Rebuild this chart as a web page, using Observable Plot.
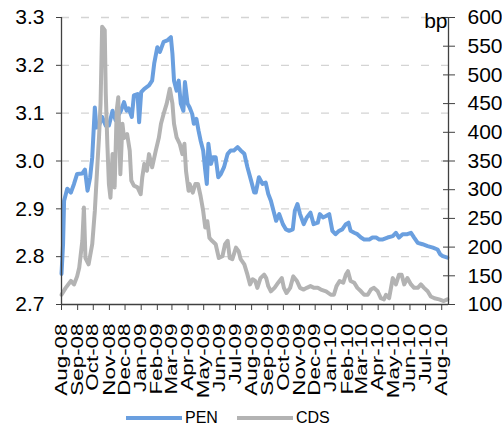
<!DOCTYPE html>
<html><head><meta charset="utf-8">
<script src="https://cdn.jsdelivr.net/npm/d3@7"></script>
<script src="https://cdn.jsdelivr.net/npm/@observablehq/plot@0.6"></script>
<style>
body{margin:0;background:#fff;font-family:"Liberation Sans",Arial,sans-serif;}
#chart svg{display:block;}
#legend{position:relative;width:502px;height:28px;font-size:16px;color:#000;}
#legend .sw{position:absolute;top:16px;height:4px;width:56px;}
#legend .lb{position:absolute;top:9px;line-height:18px;}
</style></head><body><div id="chart"></div><div id="legend"></div>
<script>
const penDates = ["2008-08-01","2008-08-04","2008-08-06","2008-08-12","2008-08-19","2008-08-25","2008-08-31","2008-09-10","2008-09-15","2008-09-20","2008-09-25","2008-09-29","2008-10-04","2008-10-07","2008-10-12","2008-10-18","2008-10-25","2008-10-31","2008-11-07","2008-11-13","2008-11-23","2008-11-29","2008-12-04","2008-12-08","2008-12-14","2008-12-18","2008-12-25","2008-12-28","2009-01-01","2009-01-07","2009-01-16","2009-01-22","2009-01-26","2009-02-01","2009-02-06","2009-02-13","2009-02-20","2009-02-27","2009-03-02","2009-03-05","2009-03-10","2009-03-14","2009-03-18","2009-03-23","2009-03-26","2009-03-31","2009-04-04","2009-04-09","2009-04-12","2009-04-17","2009-04-21","2009-04-25","2009-04-30","2009-05-04","2009-05-07","2009-05-10","2009-05-15","2009-05-19","2009-05-24","2009-05-29","2009-06-03","2009-06-09","2009-06-16","2009-06-22","2009-06-28","2009-07-05","2009-07-11","2009-07-18","2009-07-24","2009-07-31","2009-08-06","2009-08-09","2009-08-15","2009-08-22","2009-08-28","2009-09-02","2009-09-07","2009-09-12","2009-09-17","2009-09-23","2009-09-30","2009-10-06","2009-10-12","2009-10-19","2009-10-23","2009-10-28","2009-11-02","2009-11-09","2009-11-15","2009-11-22","2009-11-28","2009-12-06","2009-12-10","2009-12-16","2009-12-22","2009-12-28","2010-01-03","2010-01-09","2010-01-16","2010-01-22","2010-01-29","2010-02-03","2010-02-07","2010-02-14","2010-02-20","2010-02-27","2010-03-05","2010-03-15","2010-03-21","2010-03-28","2010-04-03","2010-04-10","2010-04-19","2010-04-29","2010-05-05","2010-05-11","2010-05-18","2010-05-27","2010-06-03","2010-06-09","2010-06-16","2010-06-25","2010-07-05","2010-07-15","2010-07-24","2010-07-29","2010-08-03","2010-08-12"];
const penValues = [2.764,2.826,2.917,2.942,2.934,2.952,2.973,2.974,2.982,2.938,2.966,3.008,3.112,3.070,3.074,3.092,3.074,3.074,3.105,3.085,3.105,3.123,3.105,3.110,3.092,3.137,3.140,3.081,3.144,3.151,3.158,3.168,3.204,3.238,3.228,3.249,3.252,3.259,3.224,3.168,3.147,3.168,3.120,3.105,3.165,3.120,3.112,3.098,3.078,3.088,3.064,3.043,3.022,2.980,2.952,3.036,2.994,3.008,3.008,2.966,2.973,2.987,3.015,3.022,3.022,3.029,3.022,3.015,2.987,2.959,2.934,2.934,2.966,2.952,2.955,2.931,2.917,2.896,2.875,2.889,2.868,2.857,2.854,2.857,2.896,2.910,2.889,2.868,2.882,2.892,2.868,2.871,2.889,2.882,2.885,2.889,2.854,2.847,2.854,2.857,2.868,2.871,2.854,2.850,2.847,2.840,2.836,2.836,2.840,2.840,2.836,2.836,2.840,2.843,2.850,2.840,2.847,2.847,2.850,2.840,2.829,2.826,2.822,2.819,2.815,2.805,2.801,2.798];

const cdsDates = ["2008-08-01","2008-08-09","2008-08-19","2008-08-25","2008-08-31","2008-09-04","2008-09-10","2008-09-13","2008-09-16","2008-09-22","2008-09-29","2008-10-04","2008-10-09","2008-10-12","2008-10-15","2008-10-18","2008-10-23","2008-10-25","2008-10-28","2008-10-31","2008-11-03","2008-11-07","2008-11-11","2008-11-15","2008-11-18","2008-11-22","2008-11-26","2008-11-29","2008-12-05","2008-12-10","2008-12-13","2008-12-18","2008-12-25","2008-12-31","2009-01-03","2009-01-07","2009-01-12","2009-01-16","2009-01-22","2009-01-29","2009-02-04","2009-02-08","2009-02-13","2009-02-19","2009-02-25","2009-03-02","2009-03-05","2009-03-10","2009-03-16","2009-03-21","2009-03-25","2009-03-28","2009-04-02","2009-04-04","2009-04-10","2009-04-15","2009-04-20","2009-04-25","2009-04-30","2009-05-04","2009-05-08","2009-05-12","2009-05-17","2009-05-24","2009-05-30","2009-06-06","2009-06-11","2009-06-16","2009-06-20","2009-06-25","2009-07-02","2009-07-07","2009-07-11","2009-07-18","2009-07-24","2009-07-29","2009-08-03","2009-08-08","2009-08-12","2009-08-18","2009-08-25","2009-08-29","2009-09-02","2009-09-07","2009-09-14","2009-09-21","2009-09-28","2009-10-02","2009-10-07","2009-10-14","2009-10-20","2009-10-27","2009-11-02","2009-11-09","2009-11-15","2009-11-22","2009-11-29","2009-12-06","2009-12-12","2009-12-22","2009-12-31","2010-01-06","2010-01-11","2010-01-17","2010-01-24","2010-01-29","2010-02-02","2010-02-07","2010-02-14","2010-02-20","2010-02-27","2010-03-05","2010-03-12","2010-03-18","2010-03-24","2010-03-31","2010-04-06","2010-04-12","2010-04-16","2010-04-22","2010-04-29","2010-05-05","2010-05-11","2010-05-16","2010-05-21","2010-05-27","2010-06-03","2010-06-09","2010-06-16","2010-06-22","2010-06-28","2010-07-05","2010-07-11","2010-07-18","2010-07-27","2010-08-05","2010-08-12"];
const cdsValues = [117,129,141,135,149,164,211,269,181,170,205,263,345,391,450,584,578,467,380,310,286,362,304,438,461,327,415,390,397,368,316,307,304,292,321,345,333,362,339,368,391,415,432,450,476,450,415,391,380,362,380,333,298,310,295,310,310,289,263,234,245,216,211,205,181,184,205,211,181,179,199,193,179,170,152,135,144,141,129,146,152,146,132,123,129,138,146,129,120,129,149,141,129,126,129,132,129,129,126,123,117,117,132,141,138,152,158,141,138,129,123,117,117,126,129,123,111,109,117,111,146,135,152,152,135,146,135,129,129,135,129,123,114,111,109,106,109];

const leftTicks = [2.7, 2.8, 2.9, 3.0, 3.1, 3.2, 3.3];
const rightTicks = [100, 150, 200, 250, 300, 350, 400, 450, 500, 550, 600];
const seriesNames = ["PEN", "CDS"];
const seriesColors = ["#6a9fdf", "#b3b3b3"];

const pen = penDates.map((d, i) => ({date: new Date(d), value: penValues[i]}));
const cds = cdsDates.map((d, i) => ({date: new Date(d), value: cdsValues[i]}));

// map CDS (bp, right axis 100–600) onto the PEN scale (left axis 2.7–3.3)
const toPen = c => 2.7 + (c - 100) / 500 * 0.6;
const fromPen = v => Math.round((v - 2.7) / 0.6 * 500 + 100);

const xStart = new Date("2008-08-01"), xEnd = new Date("2010-08-14");
const monthTicks = d3.utcMonth.range(xStart, new Date("2010-08-02"));

const axisColor = "#404040";
const chart = Plot.plot({
  width: 502, height: 400,
  marginLeft: 61, marginRight: 54, marginTop: 17, marginBottom: 96,
  style: {fontFamily: "'Liberation Sans', Arial, sans-serif", background: "white", color: "#000"},
  x: {type: "utc", domain: [xStart, xEnd]},
  y: {domain: [2.7, 3.3]},
  marks: [
    Plot.ruleY(leftTicks.filter(t => t > 2.7), {stroke: "#d4d4d4", strokeDasharray: "8,12", strokeWidth: 1.3}),
    Plot.line(pen, {x: "date", y: "value", stroke: seriesColors[0], strokeWidth: 4}),
    Plot.line(cds, {x: "date", y: d => toPen(d.value), stroke: seriesColors[1], strokeWidth: 4}),
    Plot.ruleX([xStart], {stroke: axisColor, strokeWidth: 1.3}),
    Plot.ruleX([xEnd], {stroke: axisColor, strokeWidth: 1.3}),
    Plot.ruleY([2.7], {stroke: axisColor, strokeWidth: 1.3}),
    Plot.axisY({anchor: "left", ticks: leftTicks, tickFormat: d3.format(".1f"), tickSize: 5, tickPadding: 12, fontSize: 21, label: null, stroke: axisColor}),
    Plot.axisY({anchor: "right", ticks: rightTicks.map(toPen), tickFormat: fromPen, tickSize: 6, tickPadding: 13, fontSize: 21, label: null, stroke: axisColor}),
    Plot.axisY({anchor: "right", ticks: rightTicks.map(toPen), tickSize: 6, dx: -6, text: null, label: null, stroke: axisColor}),
    Plot.axisX({ticks: monthTicks, tickFormat: d3.utcFormat("%b-%y"), tickRotate: -90, tickSize: 6, tickPadding: 13, fontSize: 16, label: null, stroke: axisColor}),
    Plot.text(["bp"], {frameAnchor: "top-right", text: d => d, textAnchor: "end", lineAnchor: "middle", dx: -1, dy: 4, fontSize: 21})
  ]
});
document.getElementById("chart").appendChild(chart);
chart.querySelectorAll('g[aria-label="x-axis tick label"] text').forEach(t => {
  const tr = t.getAttribute("transform") || "";
  t.setAttribute("transform", tr + " scale(1.4,1)");
});

const legend = document.getElementById("legend");
const legendPos = [126, 237];
seriesNames.forEach((name, i) => {
  const sw = document.createElement("div");
  sw.className = "sw"; sw.style.left = legendPos[i] + "px"; sw.style.background = seriesColors[i];
  const lb = document.createElement("div");
  lb.className = "lb"; lb.style.left = (legendPos[i] + 59) + "px"; lb.textContent = name;
  legend.appendChild(sw); legend.appendChild(lb);
});
</script></body></html>
